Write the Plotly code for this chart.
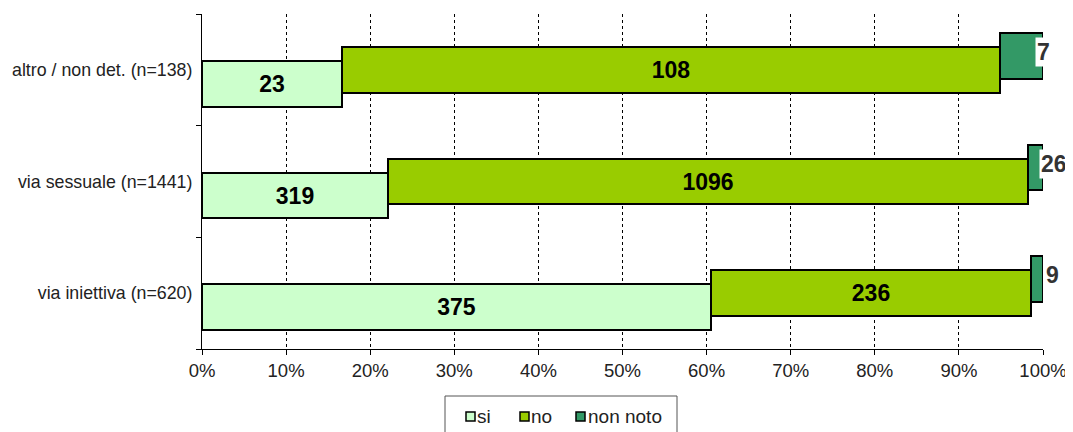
import plotly.graph_objects as go

categories = ["via iniettiva (n=620)", "via sessuale (n=1441)", "altro / non det. (n=138)"]
si = [375, 319, 23]
no = [236, 1096, 108]
non_noto = [9, 26, 7]
series_names = ["si", "no", "non noto"]
colors = ["#CCFFCC", "#99CC00", "#339966"]
tick_vals = [0, 10, 20, 30, 40, 50, 60, 70, 80, 90, 100]
tick_text = [f"{v}%" for v in tick_vals]

totals = [a + b + c for a, b, c in zip(si, no, non_noto)]
pct = lambda arr: [v / t * 100 for v, t in zip(arr, totals)]
p_si, p_no, p_nn = pct(si), pct(no), pct(non_noto)
base_no = p_si
base_nn = [a + b for a, b in zip(p_si, p_no)]
ends = [round(a + b, 6) for a, b in zip(base_nn, p_nn)]

# page has an 8px body margin; compensate so the plot area lands where the reference has it
OFF = 8
PX0, PX1, PY0, PY1 = 202, 1043, 14, 349  # plot area in page pixels
def px(p):
    return (p - PX0) / (PX1 - PX0)
def py(p):
    return (PY1 - p) / (PY1 - PY0)

W = 0.41
step = 0.125
lab_font = dict(family="Arial", size=23, color="black", weight="bold")
fig = go.Figure()
fig.add_bar(y=categories, x=p_si, base=[0] * 3, orientation="h", name=series_names[0],
            marker=dict(color=colors[0], line=dict(color="black", width=2)),
            width=W, offset=-W / 2 - step,
            text=[str(v) for v in si], textposition="inside", insidetextanchor="middle",
            constraintext="none", textfont=lab_font, hoverinfo="skip")
fig.add_bar(y=categories, x=p_no, base=base_no, orientation="h", name=series_names[1],
            marker=dict(color=colors[1], line=dict(color="black", width=2)),
            width=W, offset=-W / 2,
            text=[str(v) for v in no], textposition="inside", insidetextanchor="middle",
            constraintext="none", textfont=lab_font, hoverinfo="skip")
fig.add_bar(y=categories, x=p_nn, base=base_nn, orientation="h", name=series_names[2],
            marker=dict(color=colors[2], line=dict(color="black", width=2)),
            width=W, offset=-W / 2 + step, textposition="none",
            hoverinfo="skip")

xshifts = [9, 11, 0]
for i, cat in enumerate(categories):
    fig.add_annotation(x=ends[i], y=cat, text=f"<b>{non_noto[i]}</b>",
                       showarrow=False, xanchor="center", xshift=xshifts[i], yshift=18,
                       bgcolor="white", borderpad=1,
                       font=dict(family="Arial", size=23, color="#333333"))

# custom legend (Excel style)
fig.add_shape(type="rect", xref="paper", yref="paper",
              x0=px(445), x1=px(677), y0=py(445), y1=py(396),
              line=dict(color="#555555", width=1), fillcolor="white", layer="above")
mk_x = [466, 520, 576]
tx_x = [475, 529, 586]
for i, name in enumerate(series_names):
    fig.add_shape(type="rect", xref="paper", yref="paper",
                  x0=px(mk_x[i]), x1=px(mk_x[i] + 9), y0=py(421), y1=py(412),
                  line=dict(color="black", width=1.5), fillcolor=colors[i], layer="above")
    fig.add_annotation(xref="paper", yref="paper", x=px(tx_x[i]), y=py(417),
                       text=name, showarrow=False, xanchor="left", yanchor="middle",
                       font=dict(family="Arial", size=19, color="#222222"))

fig.update_layout(
    width=1073 - OFF, height=432 - OFF,
    margin=dict(l=PX0 - OFF, r=1073 - PX1, t=PY0 - OFF, b=432 - PY1),
    paper_bgcolor="white", plot_bgcolor="white",
    barmode="overlay", bargap=0,
    font=dict(family="Arial", color="#222222"),
    showlegend=False,
)
fig.update_xaxes(range=[0, 100], tickvals=tick_vals, ticktext=tick_text,
                 showgrid=True, gridcolor="black", griddash="dot", gridwidth=1,
                 showline=True, linecolor="black", linewidth=1,
                 ticks="outside", ticklen=5, tickcolor="black",
                 tickfont=dict(family="Arial", size=18.5, color="#222222"),
                 zeroline=False, automargin=False)
fig.update_yaxes(type="category", categoryorder="array", categoryarray=categories,
                 range=[-0.5, 2.5], tickson="boundaries",
                 showgrid=False, showline=True, linecolor="black", linewidth=1,
                 ticks="outside", ticklen=5, tickcolor="black",
                 tickfont=dict(family="Arial", size=17.8, color="#222222"),
                 ticklabelstandoff=5, automargin=False)

fig.write_html("out.html")
